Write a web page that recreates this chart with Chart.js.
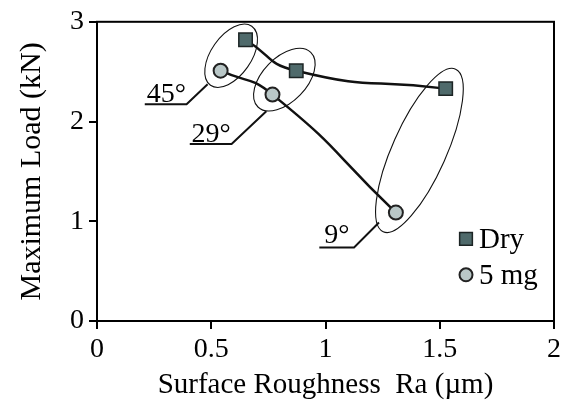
<!DOCTYPE html>
<html>
<head>
<meta charset="UTF-8">
<title>Maximum Load vs Surface Roughness</title>
<script src="https://cdn.jsdelivr.net/npm/chart.js"></script>
<style>
  html, body { margin: 0; padding: 0; background: #fff; }
  #wrap { width: 565px; height: 407px; position: relative; }
</style>
</head>
<body>
<div id="wrap"><canvas id="loadChart"></canvas></div>
<script>
// data
const dryX = [0.65, 0.872, 1.526];
const dryY = [2.82, 2.51, 2.33];
const mgX = [0.541, 0.768, 1.308];
const mgY = [2.51, 2.27, 1.087];
const seriesNames = ['Dry', '5 mg'];

// angle call-outs (data units)
const angleLabels = ['45°', '29°', '9°'];
const labelX = [0.218, 0.414, 0.994];
const labelY = [2.193, 1.795, 0.778];
const ellipseX = [0.587, 0.82, 1.411];
const ellipseY = [2.66, 2.42, 1.71];
const leaderX = [[0.484, 0.392, 0.209], [0.741, 0.589, 0.406], [1.234, 1.125, 0.973]];
const leaderY = [[2.373, 2.173, 2.173], [2.104, 1.775, 1.775], [0.987, 0.738, 0.738]];

const serif = "'Liberation Serif', 'Times New Roman', serif";
const toPts = (xs, ys) => xs.map((x, i) => ({ x: x, y: ys[i] }));

// ellipse shapes in pixels: semi-axes and tilt
const ellipseShape = [
  { a: 36, b: 20, rot: -55 },
  { a: 38, b: 22, rot: -46 },
  { a: 89, b: 27, rot: -66 }
];

const calloutPlugin = {
  id: 'callouts',
  beforeDatasetsDraw(chart) {
    const { ctx, scales: { x, y } } = chart;
    ctx.save();
    ctx.strokeStyle = '#111';
    angleLabels.forEach((txt, i) => {
      const s = ellipseShape[i];
      ctx.lineWidth = 1.1;
      ctx.beginPath();
      ctx.ellipse(x.getPixelForValue(ellipseX[i]), y.getPixelForValue(ellipseY[i]),
        s.a, s.b, s.rot * Math.PI / 180, 0, Math.PI * 2);
      ctx.stroke();

      ctx.beginPath();
      leaderX[i].forEach((lx, k) => {
        const px = x.getPixelForValue(lx), py = y.getPixelForValue(leaderY[i][k]);
        if (k === 0) ctx.moveTo(px, py); else ctx.lineTo(px, py);
      });
      ctx.lineWidth = 2;
      ctx.stroke();

      ctx.fillStyle = '#000';
      ctx.font = '28px ' + serif;
      ctx.textAlign = 'left';
      ctx.textBaseline = 'alphabetic';
      ctx.fillText(txt, x.getPixelForValue(labelX[i]), y.getPixelForValue(labelY[i]));
    });
    ctx.restore();
  },
  afterDatasetsDraw(chart) {
    const { ctx, chartArea: ca } = chart;
    ctx.save();
    // frame top and right
    ctx.strokeStyle = '#000';
    ctx.lineWidth = 2;
    ctx.strokeRect(ca.left, ca.top, ca.right - ca.left, ca.bottom - ca.top);

    // legend box inside plot
    chart.data.datasets.forEach((ds, i) => {
      const cx = ca.right - 88;
      const cy = ca.top + 217 + i * 36;
      ctx.fillStyle = ds.backgroundColor;
      ctx.strokeStyle = ds.pointBorderColor;
      ctx.lineWidth = ds.pointBorderWidth;
      Chart.helpers.drawPoint(ctx, { pointStyle: ds.pointStyle, radius: ds.pointRadius - 0.5, rotation: 0, borderWidth: ds.pointBorderWidth }, cx, cy);
      ctx.fillStyle = '#000';
      ctx.font = '29px ' + serif;
      ctx.textAlign = 'left';
      ctx.textBaseline = 'middle';
      ctx.fillText(ds.label, cx + 13, cy + 2);
    });
    ctx.restore();
  }
};

new Chart(document.getElementById('loadChart'), {
  type: 'scatter',
  data: {
    datasets: [
      {
        label: seriesNames[0],
        data: toPts(dryX, dryY),
        showLine: true,
        tension: 0.55,
        borderColor: '#111',
        borderWidth: 2.5,
        backgroundColor: '#4f6a6b',
        pointStyle: 'rect',
        pointRadius: 9.5,
        pointBorderColor: '#1c2424',
        pointBorderWidth: 1.5
      },
      {
        label: seriesNames[1],
        data: toPts(mgX, mgY),
        showLine: true,
        tension: 0.55,
        borderColor: '#111',
        borderWidth: 2.5,
        backgroundColor: '#b9c7c7',
        pointStyle: 'circle',
        pointRadius: 7,
        pointBorderColor: '#222',
        pointBorderWidth: 2
      }
    ]
  },
  options: {
    responsive: true,
    maintainAspectRatio: false,
    animation: false,
    layout: { padding: { left: 0, top: 20, right: 9, bottom: 0 } },
    plugins: { legend: { display: false }, tooltip: { enabled: false } },
    scales: {
      x: {
        type: 'linear', min: 0, max: 2,
        ticks: { stepSize: 0.5, color: '#000', padding: 4, font: { family: serif, size: 28 }, callback: (v) => String(v) },
        grid: { drawOnChartArea: false, drawTicks: true, tickLength: 8, color: '#000', lineWidth: 2 },
        border: { display: true, color: '#000', width: 2 },
        title: { display: true, text: 'Surface Roughness  Ra (µm)', color: '#000', padding: { top: 0, bottom: 4 }, font: { family: serif, size: 29 } },
        afterFit: (scale) => { scale.height = 86; }
      },
      y: {
        min: 0, max: 3,
        ticks: { stepSize: 1, color: '#000', padding: 5, font: { family: serif, size: 28 }, callback: (v) => String(v) },
        grid: { drawOnChartArea: false, drawTicks: true, tickLength: 8, color: '#000', lineWidth: 2 },
        border: { display: true, color: '#000', width: 2 },
        title: { display: true, text: 'Maximum Load (kN)', color: '#000', padding: { top: 14, bottom: 0 }, font: { family: serif, size: 30 } },
        afterFit: (scale) => { scale.width = 97; }
      }
    }
  },
  plugins: [calloutPlugin]
});
</script>
</body>
</html>
